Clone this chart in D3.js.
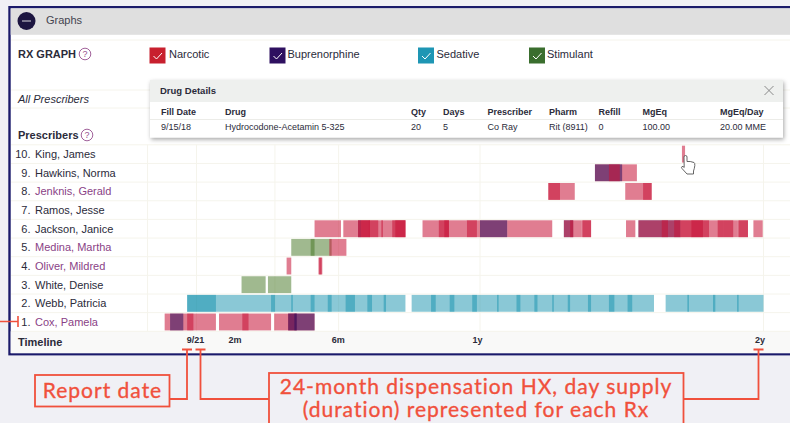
<!DOCTYPE html>
<html>
<head>
<meta charset="utf-8">
<script src="https://cdn.jsdelivr.net/npm/d3@7"></script>
<style>
  html, body { margin: 0; padding: 0; background: #f0f0f5; overflow: hidden; }
  text { font-family: "Liberation Sans", Arial, sans-serif; fill: #2b2b3a; }
  .note { font-family: "Lato", sans-serif; fill: #f0503c; stroke: #f0503c; stroke-width: 0.35px; letter-spacing: 1px; font-size: 21px; }
</style>
</head>
<body>
<div id="chart"></div>
<script>
// Prescribers, top row first
const prescribers = ["King, James", "Hawkins, Norma", "Jenknis, Gerald", "Ramos, Jesse", "Jackson, Janice",
    "Medina, Martha", "Oliver, Mildred", "White, Denise", "Webb, Patricia", "Cox, Pamela"];
const rowNumbers = [10, 9, 8, 7, 6, 5, 4, 3, 2, 1];
const highlighted = ["Jenknis, Gerald", "Medina, Martha", "Oliver, Mildred", "Cox, Pamela"];

const drugClasses = ["Narcotic", "Buprenorphine", "Sedative", "Stimulant"];

// Timeline, in days from the report date
const tickDays = [-2, 49, 182, 361, 725];
const tickLabels = ["9/21", "2m", "6m", "1y", "2y"];
const gridDays = [-63, 0, 101, 183, 365, 730];

// Each fill: class, first day, day supply. Listed in drawing order, overlaps get darker
const kingFills = [["N", 625, 4]];
const hawkinsFills = [["N", 513, 54], ["B", 513, 35], ["N", 531, 14]];
const jenknisFills = [["N", 453, 34], ["N", 453, 15], ["N", 552, 34], ["N", 575, 11]];
const ramosFills = [];
const jacksonFills = [["N", 152, 34], ["B", 208, 4], ["N", 189, 34], ["N", 208, 26], ["N", 212, 11],
    ["N", 222, 18], ["N", 238, 19], ["N", 252, 17], ["N", 256, 13], ["N", 257, 12],
    ["N", 291, 34], ["N", 312, 36], ["N", 319, 6], ["N", 348, 13], ["N", 348, 52], ["N", 400, 58], ["B", 365, 35],
    ["B", 473, 12], ["N", 473, 23], ["N", 481, 4], ["N", 496, 12], ["N", 497, 11], ["N", 553, 12],
    ["B", 569, 54], ["N", 569, 38], ["N", 599, 8], ["N", 607, 16], ["N", 615, 22], ["N", 623, 29],
    ["N", 637, 23], ["N", 637, 15], ["N", 652, 8], ["N", 660, 18], ["N", 671, 20], ["N", 678, 19],
    ["N", 697, 13], ["N", 698, 12], ["N", 717, 12]];
const medinaFills = [["T", 122, 30], ["T", 147, 27], ["N", 171, 22]];
const oliverFills = [["N", 116, 6], ["N", 157, 5], ["N", 158, 3]];
const whiteFills = [["T", 58, 31], ["T", 92, 30]];
const webbFills = [["S", -12, 113], ["S", -12, 37], ["S", 96, 28], ["S", 122, 30], ["S", 147, 27], ["S", 169, 35],
    ["S", 192, 34], ["S", 220, 24], ["S", 241, 28], ["S", 277, 31], ["S", 302, 30], ["S", 326, 35], ["S", 355, 34],
    ["S", 387, 30], ["S", 412, 27], ["S", 435, 25], ["S", 458, 23], ["S", 478, 30], ["S", 504, 34], ["S", 531, 30],
    ["S", 555, 34], ["S", 604, 30], ["S", 632, 36], ["S", 665, 33], ["S", 696, 34]];
const coxFills = [["N", -41, 37], ["N", -12, 37], ["N", 29, 38], ["N", 59, 37], ["N", 100, 29], ["N", 118, 34],
    ["B", -34, 17], ["B", 118, 34], ["B", 126, 3]];
const allFills = [kingFills, hawkinsFills, jenknisFills, ramosFills, jacksonFills,
    medinaFills, oliverFills, whiteFills, webbFills, coxFills];

// Popup table
const detailHeaders = ["Fill Date", "Drug", "Qty", "Days", "Prescriber", "Pharm", "Refill", "MgEq", "MgEq/Day"];
const detailValues = ["9/15/18", "Hydrocodone-Acetamin 5-325", "20", "5", "Co Ray", "Rit (8911)", "0", "100.00", "20.00 MME"];
const detailX = [161, 225, 411, 443, 487.5, 549, 598.5, 642.5, 720];

const classColor = {N: "#c71337", B: "#2e0f5e", S: "#1591ad", T: "#41731f"};
const boxColor = ["#c8202e", "#2e1060", "#1e96b4", "#3a6e2e"];
const boxX = [149.5, 269.5, 418, 529];
const labelX = [169, 287.5, 436.5, 547];
const red = "#f0503c";

const svg = d3.select("#chart").append("svg")
    .attr("width", 790)
    .attr("height", 423)
    .style("display", "block");

const x = d3.scaleLinear().domain([0, 730]).range([196.5, 763.5]);
const y = d3.scaleBand().domain(prescribers).range([144.8, 331.3]);

// panel
svg.append("rect").attr("x", 9.5).attr("y", 7.2).attr("width", 800).attr("height", 347)
    .attr("fill", "#fff").attr("stroke", "#1b1a6b").attr("stroke-width", 2.4);
svg.append("rect").attr("x", 10.7).attr("y", 8.4).attr("width", 790).attr("height", 26.4).attr("fill", "#dfdfdf");
svg.append("rect").attr("x", 10.7).attr("y", 331.3).attr("width", 790).attr("height", 22).attr("fill", "#f9f9f8");
svg.append("circle").attr("cx", 26.5).attr("cy", 21).attr("r", 9).attr("fill", "#1c1540");
svg.append("line").attr("x1", 22).attr("x2", 31).attr("y1", 21).attr("y2", 21).attr("stroke", "#9a97a8").attr("stroke-width", 1.5);
svg.append("text").attr("x", 46).attr("y", 24).style("font-size", "11px").style("fill", "#44444f").text("Graphs");

// horizontal rules
const ruleColor = "#f5f4ec";
[40, 90, 108].forEach(function(r) {
    svg.append("line").attr("x1", 11).attr("x2", 790).attr("y1", r).attr("y2", r).attr("stroke", ruleColor);
});
svg.append("g").selectAll("line")
    .data(prescribers.concat(["end"]))
    .join("line")
    .attr("x1", 11).attr("x2", 790)
    .attr("y1", function(d, i) { return y.range()[0] + i * y.step(); })
    .attr("y2", function(d, i) { return y.range()[0] + i * y.step(); })
    .attr("stroke", ruleColor);
svg.append("g").selectAll("line")
    .data(gridDays)
    .join("line")
    .attr("x1", function(d) { return x(d); }).attr("x2", function(d) { return x(d); })
    .attr("y1", y.range()[0]).attr("y2", y.range()[1])
    .attr("stroke", ruleColor);

// bars, one group per row
const rows = svg.append("g").selectAll("g")
    .data(prescribers)
    .join("g")
    .attr("transform", function(d) { return `translate(0,${y(d) + 0.9})`; });
rows.selectAll("rect")
    .data(function(d, i) { return allFills[i]; })
    .join("rect")
    .attr("x", function(d) { return x(d[1]); })
    .attr("width", function(d) { return x(d[1] + d[2]) - x(d[1]); })
    .attr("height", y.bandwidth() - 1.8)
    .attr("fill", function(d) { return classColor[d[0]]; })
    .attr("fill-opacity", function(d) { return d[0] == "B" ? 0.55 : d[0] == "N" ? 0.55 : 0.5; });

// row labels
svg.append("g").selectAll("text")
    .data(rowNumbers)
    .join("text")
    .attr("x", 30.5)
    .attr("y", function(d, i) { return y(prescribers[i]) + y.bandwidth() / 2 + 4; })
    .attr("text-anchor", "end")
    .style("font-size", "11px")
    .text(function(d) { return d + "."; });
svg.append("g").selectAll("text")
    .data(prescribers)
    .join("text")
    .attr("x", 35)
    .attr("y", function(d) { return y(d) + y.bandwidth() / 2 + 4; })
    .style("font-size", "11px")
    .style("fill", function(d) { return highlighted.includes(d) ? "#8a3f86" : "#2b2b3a"; })
    .text(function(d) { return d; });

// titles on the left
function helpMark(cx, cy) {
    svg.append("circle").attr("cx", cx).attr("cy", cy).attr("r", 5.8)
        .attr("fill", "none").attr("stroke", "#96508f").attr("stroke-width", 0.9);
    svg.append("text").attr("x", cx).attr("y", cy + 3.2).attr("text-anchor", "middle")
        .style("font-size", "9px").style("fill", "#96508f").text("?");
}
svg.append("text").attr("x", 18).attr("y", 58).style("font-size", "11px").style("font-weight", "bold").text("RX GRAPH");
helpMark(85, 54);
svg.append("text").attr("x", 18).attr("y", 103).style("font-size", "11px").style("font-style", "italic").text("All Prescribers");
svg.append("text").attr("x", 18).attr("y", 139).style("font-size", "11px").style("font-weight", "bold").text("Prescribers");
helpMark(87, 135);
svg.append("text").attr("x", 18).attr("y", 346).style("font-size", "11px").style("font-weight", "bold").text("Timeline");

// legend
drugClasses.forEach(function(c, i) {
    svg.append("rect").attr("x", boxX[i]).attr("y", 47.5).attr("width", 16).attr("height", 16)
        .attr("fill", boxColor[i]);
    svg.append("path")
        .attr("d", `M${boxX[i] + 4},56 l3,3 l5.5,-6`)
        .attr("fill", "none").attr("stroke", "#fff").attr("stroke-width", 1);
    svg.append("text").attr("x", labelX[i]).attr("y", 58).style("font-size", "11px").text(c);
});

// timeline axis
const axis = svg.append("g")
    .attr("transform", "translate(0,337)")
    .call(d3.axisBottom(x)
        .tickValues(tickDays)
        .tickSize(0)
        .tickPadding(0)
        .tickFormat(function(d, i) { return tickLabels[i]; }));
axis.select(".domain").remove();
axis.selectAll("text").attr("y", 0).attr("dy", "0.62em")
    .style("font-size", "9px").style("font-weight", "bold").style("font-family", "Liberation Sans");

// popup with drug details
const defs = svg.append("defs");
const blur = defs.append("filter").attr("id", "shadow").attr("x", "-5%").attr("y", "-20%").attr("width", "110%").attr("height", "150%");
blur.append("feDropShadow").attr("dx", 1).attr("dy", 2).attr("stdDeviation", 2).attr("flood-color", "#000").attr("flood-opacity", 0.35);
svg.append("rect").attr("x", 150).attr("y", 80).attr("width", 633).attr("height", 57.5)
    .attr("fill", "#fff").attr("filter", "url(#shadow)");
svg.append("rect").attr("x", 150).attr("y", 80).attr("width", 633).attr("height", 22).attr("fill", "#eef0ee");
svg.append("line").attr("x1", 150).attr("x2", 783).attr("y1", 119.5).attr("y2", 119.5).attr("stroke", "#ecece8");
svg.append("text").attr("x", 160).attr("y", 93.5).style("font-size", "9.5px").style("font-weight", "bold").text("Drug Details");
svg.append("path").attr("d", "M764.5,86 l9,9 M773.5,86 l-9,9").attr("stroke", "#8a8a8a").attr("fill", "none");
svg.append("g").selectAll("text").data(detailHeaders).join("text")
    .attr("x", function(d, i) { return detailX[i]; }).attr("y", 114.5)
    .style("font-size", "9px").style("font-weight", "bold").text(function(d) { return d; });
svg.append("g").selectAll("text").data(detailValues).join("text")
    .attr("x", function(d, i) { return detailX[i]; }).attr("y", 129.5)
    .style("font-size", "9px").text(function(d) { return d; });

// hand cursor
svg.append("path")
    .attr("d", "M684,157 q0,-1.5 1.5,-1.5 q1.5,0 1.5,1.5 l0,4.5 q3,-0.5 7,1 q1,0.5 0.8,3 q-0.3,3 -1.3,5.5 l0,3 l-6.5,0 l-5,-5.5 q-1,-1.5 0,-2 q1,-0.5 2.2,1 z")
    .attr("fill", "#fff").attr("stroke", "#555").attr("stroke-width", 0.9);

// red annotations
function callout(capX, endX) {
    svg.append("path")
        .attr("d", `M${capX - 5},349.5 h10 M${capX},349.5 V399 H${endX}`)
        .attr("fill", "none").attr("stroke", red).attr("stroke-width", 1.8);
}
callout(187, 170);
callout(200.5, 269);
callout(758.5, 684);
svg.append("path").attr("d", "M0,321.5 H18 M18,316 V327").attr("fill", "none").attr("stroke", red).attr("stroke-width", 1.6);
svg.append("rect").attr("x", 35).attr("y", 375).attr("width", 134.5).attr("height", 31.5)
    .attr("fill", "none").attr("stroke", red).attr("stroke-width", 1.8);
svg.append("rect").attr("x", 269).attr("y", 373).attr("width", 414.5).attr("height", 60)
    .attr("fill", "none").attr("stroke", red).attr("stroke-width", 1.8);
svg.append("text").attr("class", "note").attr("x", 102.5).attr("y", 398).attr("text-anchor", "middle").text("Report date");
svg.append("text").attr("class", "note").attr("x", 476).attr("y", 394).attr("text-anchor", "middle").text("24-month dispensation HX, day supply");
svg.append("text").attr("class", "note").attr("x", 476).attr("y", 416.5).attr("text-anchor", "middle").text("(duration) represented for each Rx");
</script>
</body>
</html>
